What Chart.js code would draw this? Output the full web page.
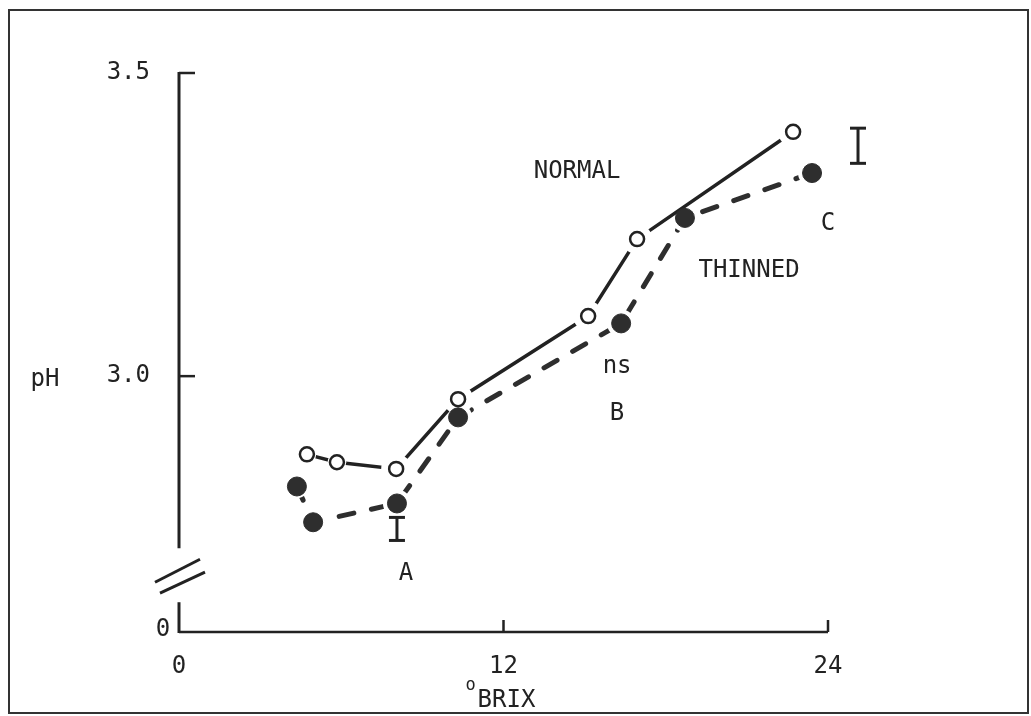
<!DOCTYPE html>
<html>
<head>
<meta charset="utf-8">
<title>pH vs °BRIX</title>
<script src="https://cdn.jsdelivr.net/npm/chart.js@4.4.1/dist/chart.umd.min.js"></script>
<style>
  html, body { margin: 0; padding: 0; background: #fff; }
  canvas { display: block; }
</style>
</head>
<body>
<canvas id="chart" width="1031" height="716"></canvas>
<script>
// Sugar level (°BRIX) and juice pH for normal and thinned vines
const brixNormal  = [4.73, 5.84, 8.03, 10.32, 15.13, 16.94, 22.71];
const phNormal    = [2.871, 2.858, 2.847, 2.962, 3.099, 3.226, 3.403];
const brixThinned = [4.36, 4.96, 8.06, 10.32, 16.35, 18.71, 23.41];
const phThinned   = [2.818, 2.759, 2.790, 2.932, 3.087, 3.261, 3.335];

// Axis ticks
const xTickValues = [0, 12, 24];
const yTickValues = [3.0, 3.5];
const yFloorLabel = '0';
// bottom of the broken pH axis (drawn as 0) and where the break sits
const Y_FLOOR = 2.578;
const AXIS_BREAK = 2.67;

// Significance bars (LSD)
const sigBrix = [8.06, 25.11];
const sigLow  = [2.729, 3.351];
const sigHigh = [2.767, 3.409];

// Text notes placed in data space (baseline position)
const noteText = ['NORMAL', 'THINNED', 'C', 'ns', 'B', 'A'];
const noteBrix = [14.72, 21.08, 24.0, 16.2, 16.2, 8.39];
const notePh   = [3.327, 3.163, 3.241, 3.005, 2.927, 2.663];

const INK = '#222';
const FILL = '#2e2e2e';
const FONT = '"DejaVu Sans Mono", monospace';

const pts = (xs, ys) => xs.map((v, i) => ({ x: v, y: ys[i] }));

function seg(ctx, x1, y1, x2, y2) {
  ctx.beginPath(); ctx.moveTo(x1, y1); ctx.lineTo(x2, y2); ctx.stroke();
}

// White disc under each marker so the joining line stops short of it;
// its size follows the distance to the nearest neighbouring point.
function gapRadius(xs, ys, cap) {
  return ctx => {
    const { x, y } = ctx.chart.scales;
    const i = ctx.dataIndex;
    const px = x.getPixelForValue(xs[i]);
    const py = y.getPixelForValue(ys[i]);
    let near = Infinity;
    [i - 1, i + 1].forEach(j => {
      if (j >= 0 && j < xs.length) {
        near = Math.min(near, Math.hypot(x.getPixelForValue(xs[j]) - px, y.getPixelForValue(ys[j]) - py));
      }
    });
    return Math.min(cap, 0.3 * near);
  };
}

const paper = {
  id: 'paper',
  beforeDraw(c) {
    const ctx = c.ctx;
    ctx.save(); ctx.fillStyle = '#fff'; ctx.fillRect(0, 0, c.width, c.height); ctx.restore();
  },
  beforeDatasetsDraw(c) {
    const { ctx, scales: { x, y } } = c;
    const x0 = x.getPixelForValue(0);
    const yTop = y.getPixelForValue(3.5);
    const yBot = y.getPixelForValue(Y_FLOOR);
    const yBrk = y.getPixelForValue(AXIS_BREAK);
    ctx.save();
    ctx.strokeStyle = INK;
    ctx.lineCap = 'butt';
    // pH axis, interrupted by the break
    ctx.lineWidth = 3;
    seg(ctx, x0, yTop - 1, x0, yBrk - 28);
    seg(ctx, x0, yBrk + 26, x0, yBot + 1);
    // BRIX axis
    ctx.lineWidth = 2.5;
    seg(ctx, x0, yBot, x.getPixelForValue(24), yBot);
    // inward ticks
    yTickValues.forEach(v => { const p = y.getPixelForValue(v); seg(ctx, x0, p, x0 + 16, p); });
    xTickValues.filter(v => v > 0).forEach(v => { const p = x.getPixelForValue(v); seg(ctx, p, yBot, p, yBot - 12); });
    // break marks
    ctx.lineWidth = 3;
    seg(ctx, x0 - 24, yBrk + 6, x0 + 21, yBrk - 17);
    seg(ctx, x0 - 19, yBrk + 17, x0 + 26, yBrk - 4);
    ctx.restore();
  },
  afterDatasetsDraw(c) {
    const { ctx, scales: { x, y } } = c;
    ctx.save();
    ctx.fillStyle = INK;
    ctx.strokeStyle = INK;
    // notes
    ctx.font = '24px ' + FONT;
    ctx.textAlign = 'center';
    ctx.textBaseline = 'alphabetic';
    noteText.forEach((t, i) => ctx.fillText(t, x.getPixelForValue(noteBrix[i]), y.getPixelForValue(notePh[i])));
    // significance bars
    ctx.lineWidth = 3;
    sigBrix.forEach((b, i) => {
      const px = x.getPixelForValue(b);
      const lo = y.getPixelForValue(sigLow[i]);
      const hi = y.getPixelForValue(sigHigh[i]);
      seg(ctx, px, hi, px, lo);
      seg(ctx, px - 8, hi, px + 8, hi);
      seg(ctx, px - 8, lo, px + 8, lo);
    });
    // axis titles
    const x0 = x.getPixelForValue(0);
    ctx.fillText('pH', x0 - 134, y.getPixelForValue(3.0) + 10);
    ctx.textBaseline = 'middle';
    ctx.fillText(yFloorLabel, x0 - 16, y.getPixelForValue(Y_FLOOR) - 2);
    const bx = x.getPixelForValue(12) + 3;
    ctx.textBaseline = 'alphabetic';
    ctx.fillText('BRIX', bx, 707);
    ctx.font = '17px ' + FONT;
    ctx.fillText('o', bx - 36, 690);
    ctx.restore();
  },
  afterDraw(c) {
    const ctx = c.ctx;
    ctx.save();
    ctx.strokeStyle = '#333';
    ctx.lineWidth = 2;
    ctx.strokeRect(9, 10, 1019, 703);
    ctx.restore();
  }
};

new Chart(document.getElementById('chart'), {
  type: 'scatter',
  data: {
    datasets: [
      { label: 'NORMAL', data: pts(brixNormal, phNormal), showLine: false,
        pointRadius: 7, pointBackgroundColor: '#fff', pointBorderColor: INK, pointBorderWidth: 2.5, order: 0 },
      { label: 'THINNED', data: pts(brixThinned, phThinned), showLine: false,
        pointRadius: 9.5, pointBackgroundColor: FILL, pointBorderColor: FILL, pointBorderWidth: 1, order: 1 },
      { label: 'normal gap', data: pts(brixNormal, phNormal), showLine: false,
        pointRadius: gapRadius(brixNormal, phNormal, 15), pointBackgroundColor: '#fff',
        pointBorderColor: '#fff', pointBorderWidth: 0, order: 2 },
      { label: 'normal line', data: pts(brixNormal, phNormal), showLine: true,
        borderColor: INK, borderWidth: 3.5, pointRadius: 0, order: 3 },
      { label: 'thinned gap', data: pts(brixThinned, phThinned), showLine: false,
        pointRadius: gapRadius(brixThinned, phThinned, 14), pointBackgroundColor: '#fff',
        pointBorderColor: '#fff', pointBorderWidth: 0, order: 4 },
      { label: 'thinned line', data: pts(brixThinned, phThinned), showLine: true,
        borderColor: FILL, borderWidth: 5, borderDash: [15, 18], borderCapStyle: 'round',
        pointRadius: 0, order: 5 }
    ]
  },
  options: {
    responsive: false,
    devicePixelRatio: 1,
    animation: false,
    events: [],
    layout: { padding: { top: 73, right: 203, bottom: 0, left: 0 } },
    plugins: { legend: { display: false }, tooltip: { enabled: false }, title: { display: false } },
    scales: {
      x: {
        type: 'linear', min: 0, max: 24,
        grid: { display: false, drawTicks: false },
        border: { display: false },
        afterBuildTicks: s => { s.ticks = xTickValues.map(v => ({ value: v })); },
        afterFit: s => { s.height = 84; },
        ticks: { padding: 20, maxRotation: 0, color: INK, font: { family: FONT, size: 24 },
                 callback: v => String(v) }
      },
      y: {
        type: 'linear', min: Y_FLOOR, max: 3.5,
        grid: { display: false, drawTicks: false },
        border: { display: false },
        afterBuildTicks: s => { s.ticks = yTickValues.map(v => ({ value: v })); },
        afterFit: s => { s.width = 179; },
        ticks: { padding: 29, color: INK, font: { family: FONT, size: 24 },
                 callback: v => Number(v).toFixed(1) }
      }
    }
  },
  plugins: [paper]
});
</script>
</body>
</html>
